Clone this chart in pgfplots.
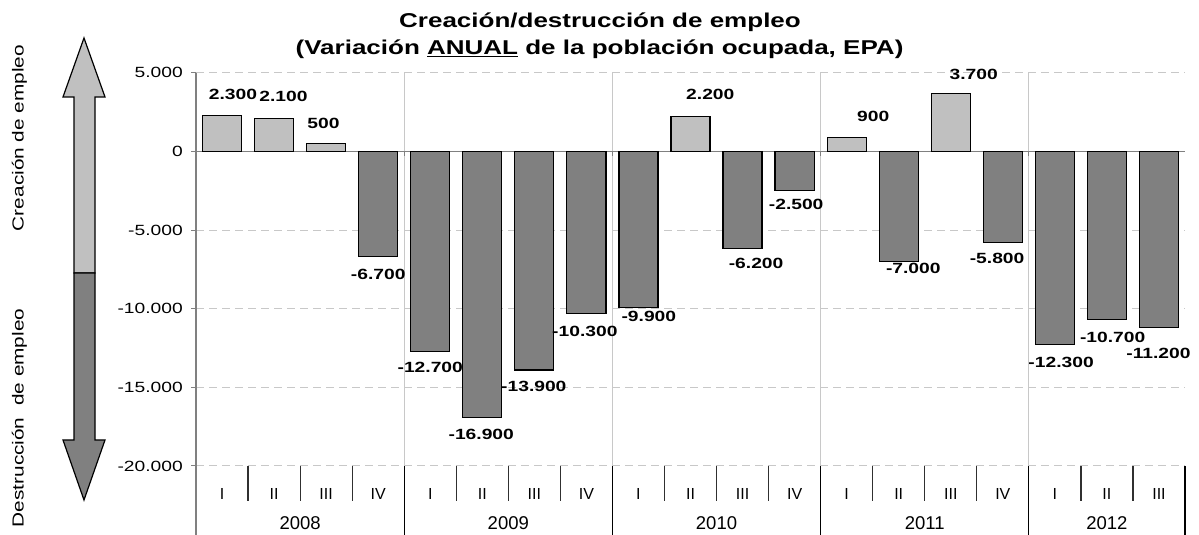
\documentclass[border=0pt]{standalone}
\usepackage{fontspec}
\setmainfont{Liberation Sans}
\newfontfamily\wide{Liberation Sans}[FakeStretch=1.3]
\usepackage{pgfplots}
\usepackage{pgfplotstable}
\pgfplotsset{compat=1.18}
\definecolor{barlight}{HTML}{C0C0C0}
\definecolor{bardark}{HTML}{808080}
\definecolor{gridc}{HTML}{C8C8C8}
\definecolor{axc}{HTML}{808080}
\definecolor{sepc}{HTML}{303030}

% label positions (x in category units, y in data units) and the value shown
\pgfplotstableread{
lx ly v
0.21 3611 2300
1.18 3484 2100
1.95 1761 500
3.00 -7851 -6700
4.00 -13763 -12700
4.98 -18022 -16900
5.99 -14971 -13900
6.97 -11474 -10300
8.20 -10521 -9900
9.38 3592 2200
10.26 -7152 -6200
11.03 -3401 -2500
12.51 2238 900
13.28 -7470 -7000
14.44 4882 3700
14.89 -6834 -5800
16.12 -13445 -12300
17.11 -11824 -10700
17.99 -12873 -11200
}\labeltable

\begin{document}
\begin{tikzpicture}
\useasboundingbox (0pt,0pt) rectangle (1199pt,535pt);

% double arrow
\filldraw[fill=barlight, draw=black, line width=1.2pt, line join=miter]
  (84pt,497pt) -- (105pt,438pt) -- (95pt,438pt) -- (95pt,262pt) -- (74pt,262pt) -- (74pt,438pt) -- (63pt,438pt) -- cycle;
\filldraw[fill=bardark, draw=black, line width=1.2pt, line join=miter]
  (74pt,262pt) -- (95pt,262pt) -- (95pt,95pt) -- (105pt,95pt) -- (84pt,35pt) -- (63pt,95pt) -- (74pt,95pt) -- cycle;

\node[rotate=90, inner sep=0pt, font=\wide\fontsize{16}{19}\selectfont] at (19.5pt,397pt) {Creación de empleo};
\node[rotate=90, inner sep=0pt, font=\wide\fontsize{16}{19}\selectfont] at (19.5pt,117pt) {Destrucción\ \ de empleo};

% title
\node[anchor=base, inner sep=0pt, font=\wide\bfseries\fontsize{20}{24}\selectfont] at (600pt,507.7pt) {Creación/destrucción de empleo};
\node[anchor=base, inner sep=0pt, font=\wide\bfseries\fontsize{20}{24}\selectfont] at (599.5pt,480pt) {(Variación \underline{ANUAL} de la población ocupada, EPA)};

\begin{axis}[
  at={(196pt,69pt)}, anchor=south west,
  scale only axis, width=989pt, height=393.3pt,
  xmin=-0.5, xmax=18.5, ymin=-20000, ymax=5000,
  clip=false,
  axis line style={draw=none},
  ytick={-20000,-15000,-10000,-5000,0,5000},
  scaled y ticks=false,
  ytick pos=left, xtick pos=bottom,
  tick align=outside, major tick length=5pt,
  y tick style={draw=axc, line width=1pt},
  x tick style={draw=none},
  ymajorgrids,
  grid style={draw=gridc, line width=1pt, dash pattern=on 8pt off 5pt},
  yticklabel style={font=\wide\fontsize{14.8}{17}\selectfont, inner sep=0pt, anchor=east, xshift=-8pt,
    /pgf/number format/.cd, fixed, precision=0, 1000 sep={.}, assume math mode=true},
  xtick={0,...,18},
  xticklabels={I,II,III,IV,I,II,III,IV,I,II,III,IV,I,II,III,IV,I,II,III},
  xticklabel style={font=\fontsize{16}{19}\selectfont, inner sep=0pt, anchor=center, yshift=-23pt},
]
% vertical year grid lines
\pgfplotsinvokeforeach{3.5,7.5,11.5,15.5}{
  \draw[gridc, line width=1pt] (axis cs:#1,-20000) -- (axis cs:#1,5000);
}
% zero line
\draw[axc, line width=1.3pt] (axis cs:-0.5,0) -- (axis cs:18.5,0);
\pgfplotsinvokeforeach{3.5,7.5,11.5,15.5}{
  \draw[axc, line width=1pt] (axis cs:#1,0) -- ++(0pt,-5pt);
}
% y axis line continuing through category area
\draw[axc, line width=1.2pt] (axis cs:-0.5,5000) -- (axis cs:-0.5,-20000) -- ++(0pt,-69pt);
% category separators
\pgfplotsinvokeforeach{0.5,1.5,2.5,4.5,5.5,6.5,8.5,9.5,10.5,12.5,13.5,14.5,16.5,17.5}{
  \draw[sepc, line width=1.2pt] (axis cs:#1,-20000) -- ++(0pt,-35pt);
}
\pgfplotsinvokeforeach{3.5,7.5,11.5,15.5,18.5}{
  \draw[black, line width=1.2pt] (axis cs:#1,-20000) -- ++(0pt,-69pt);
}
% year labels
\node[inner sep=0pt, font=\fontsize{18.5}{22}\selectfont, yshift=-57pt] at (axis cs:1.5,-20000) {2008};
\node[inner sep=0pt, font=\fontsize{18.5}{22}\selectfont, yshift=-57pt] at (axis cs:5.5,-20000) {2009};
\node[inner sep=0pt, font=\fontsize{18.5}{22}\selectfont, yshift=-57pt] at (axis cs:9.5,-20000) {2010};
\node[inner sep=0pt, font=\fontsize{18.5}{22}\selectfont, yshift=-57pt] at (axis cs:13.5,-20000) {2011};
\node[inner sep=0pt, font=\fontsize{18.5}{22}\selectfont, yshift=-57pt] at (axis cs:17,-20000) {2012};

% bars: job creation
\addplot[ybar, bar width=0.75, bar shift=0pt, fill=barlight, draw=black, line width=1.2pt]
  coordinates {(0,2300) (1,2100) (2,500) (9,2200) (12,900) (14,3700)};
% bars: job destruction
\addplot[ybar, bar width=0.75, bar shift=0pt, fill=bardark, draw=black, line width=1.2pt]
  coordinates {(3,-6700) (4,-12700) (5,-16900) (6,-13900) (7,-10300) (8,-9900)
               (10,-6200) (11,-2500) (13,-7000) (15,-5800) (16,-12300) (17,-10700) (18,-11200)};
% value labels
\addplot[draw=none, no markers, nodes near coords={\pgfmathprintnumber[fixed,precision=0,1000 sep={.},assume math mode=true]{\pgfplotspointmeta}},
  point meta=explicit, nodes near coords align={center},
  every node near coord/.append style={font=\wide\bfseries\fontsize{14.8}{17}\selectfont, anchor=center, inner sep=0pt}]
  table[x=lx, y=ly, meta=v] {\labeltable};
\end{axis}
\end{tikzpicture}
\end{document}
